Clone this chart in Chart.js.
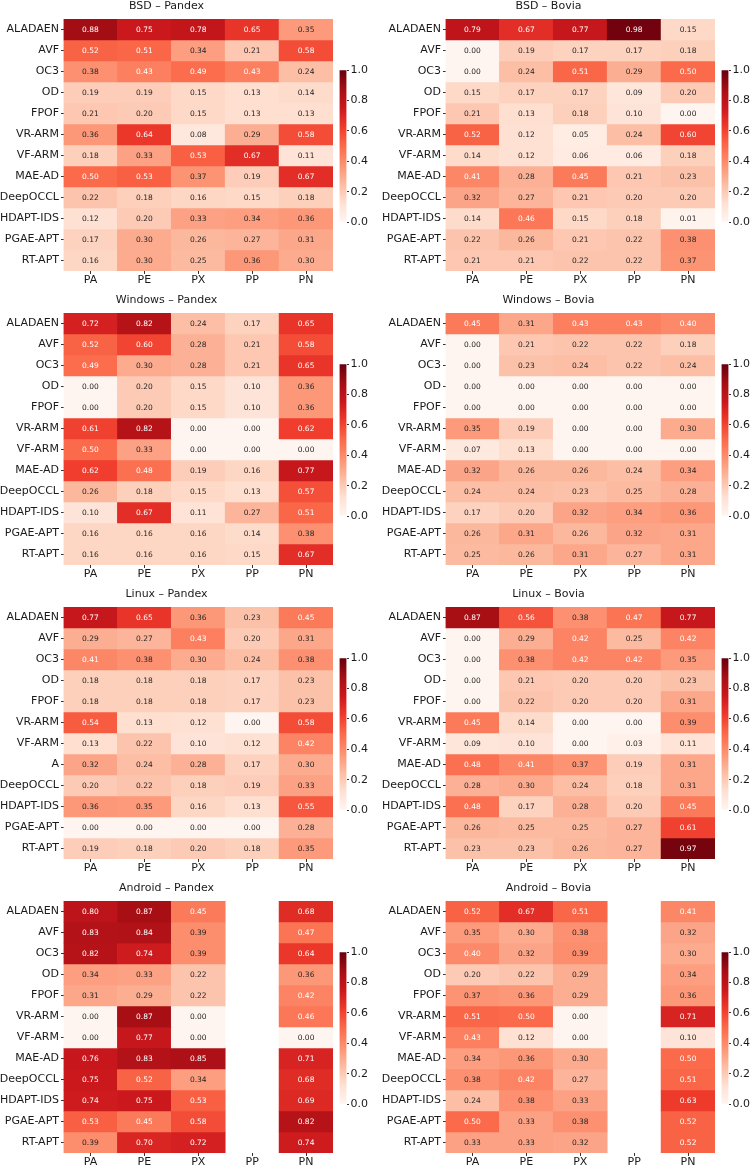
<!DOCTYPE html>
<html>
<head>
<meta charset="utf-8">
<script src="https://cdn.jsdelivr.net/npm/chart.js@4.4.1/dist/chart.umd.min.js"></script>
<style>
html,body{margin:0;padding:0;background:#fff;overflow:hidden;width:751px;height:1167px;}
canvas{position:absolute;}
</style>
</head>
<body>
<script>
// ---------- DATA ----------
const columns = ["PA", "PE", "PX", "PP", "PN"];
const methods = ["ALADAEN", "AVF", "OC3", "OD", "FPOF", "VR-ARM", "VF-ARM", "MAE-AD", "DeepOCCL", "HDAPT-IDS", "PGAE-APT", "RT-APT"];
const linuxPandexRows = ["ALADAEN", "AVF", "OC3", "OD", "FPOF", "VR-ARM", "VF-ARM", "A", "DeepOCCL", "HDAPT-IDS", "PGAE-APT", "RT-APT"];
const colorbarTicks = [0.0, 0.2, 0.4, 0.6, 0.8, 1.0];

const bsdPandex = [
  [0.88, 0.75, 0.78, 0.65, 0.35],
  [0.52, 0.51, 0.34, 0.21, 0.58],
  [0.38, 0.43, 0.49, 0.43, 0.24],
  [0.19, 0.19, 0.15, 0.13, 0.14],
  [0.21, 0.20, 0.15, 0.13, 0.13],
  [0.36, 0.64, 0.08, 0.29, 0.58],
  [0.18, 0.33, 0.53, 0.67, 0.11],
  [0.50, 0.53, 0.37, 0.19, 0.67],
  [0.22, 0.18, 0.16, 0.15, 0.18],
  [0.12, 0.20, 0.33, 0.34, 0.36],
  [0.17, 0.30, 0.26, 0.27, 0.31],
  [0.16, 0.30, 0.25, 0.36, 0.30]
];
const bsdBovia = [
  [0.79, 0.67, 0.77, 0.98, 0.15],
  [0.00, 0.19, 0.17, 0.17, 0.18],
  [0.00, 0.24, 0.51, 0.29, 0.50],
  [0.15, 0.17, 0.17, 0.09, 0.20],
  [0.21, 0.13, 0.18, 0.10, 0.00],
  [0.52, 0.12, 0.05, 0.24, 0.60],
  [0.14, 0.12, 0.06, 0.06, 0.18],
  [0.41, 0.28, 0.45, 0.21, 0.23],
  [0.32, 0.27, 0.21, 0.20, 0.20],
  [0.14, 0.46, 0.15, 0.18, 0.01],
  [0.22, 0.26, 0.21, 0.22, 0.38],
  [0.21, 0.21, 0.22, 0.22, 0.37]
];
const windowsPandex = [
  [0.72, 0.82, 0.24, 0.17, 0.65],
  [0.52, 0.60, 0.28, 0.21, 0.58],
  [0.49, 0.30, 0.28, 0.21, 0.65],
  [0.00, 0.20, 0.15, 0.10, 0.36],
  [0.00, 0.20, 0.15, 0.10, 0.36],
  [0.61, 0.82, 0.00, 0.00, 0.62],
  [0.50, 0.33, 0.00, 0.00, 0.00],
  [0.62, 0.48, 0.19, 0.16, 0.77],
  [0.26, 0.18, 0.15, 0.13, 0.57],
  [0.10, 0.67, 0.11, 0.27, 0.51],
  [0.16, 0.16, 0.16, 0.14, 0.38],
  [0.16, 0.16, 0.16, 0.15, 0.67]
];
const windowsBovia = [
  [0.45, 0.31, 0.43, 0.43, 0.40],
  [0.00, 0.21, 0.22, 0.22, 0.18],
  [0.00, 0.23, 0.24, 0.22, 0.24],
  [0.00, 0.00, 0.00, 0.00, 0.00],
  [0.00, 0.00, 0.00, 0.00, 0.00],
  [0.35, 0.19, 0.00, 0.00, 0.30],
  [0.07, 0.13, 0.00, 0.00, 0.00],
  [0.32, 0.26, 0.26, 0.24, 0.34],
  [0.24, 0.24, 0.23, 0.25, 0.28],
  [0.17, 0.20, 0.32, 0.34, 0.36],
  [0.26, 0.31, 0.26, 0.32, 0.31],
  [0.25, 0.26, 0.31, 0.27, 0.31]
];
const linuxPandex = [
  [0.77, 0.65, 0.36, 0.23, 0.45],
  [0.29, 0.27, 0.43, 0.20, 0.31],
  [0.41, 0.38, 0.30, 0.24, 0.38],
  [0.18, 0.18, 0.18, 0.17, 0.23],
  [0.18, 0.18, 0.18, 0.17, 0.23],
  [0.54, 0.13, 0.12, 0.00, 0.58],
  [0.13, 0.22, 0.10, 0.12, 0.42],
  [0.32, 0.24, 0.28, 0.17, 0.30],
  [0.20, 0.22, 0.18, 0.19, 0.33],
  [0.36, 0.35, 0.16, 0.13, 0.55],
  [0.00, 0.00, 0.00, 0.00, 0.28],
  [0.19, 0.18, 0.20, 0.18, 0.35]
];
const linuxBovia = [
  [0.87, 0.56, 0.38, 0.47, 0.77],
  [0.00, 0.29, 0.42, 0.25, 0.42],
  [0.00, 0.38, 0.42, 0.42, 0.35],
  [0.00, 0.21, 0.20, 0.20, 0.23],
  [0.00, 0.22, 0.20, 0.20, 0.31],
  [0.45, 0.14, 0.00, 0.00, 0.39],
  [0.09, 0.10, 0.00, 0.03, 0.11],
  [0.48, 0.41, 0.37, 0.19, 0.31],
  [0.28, 0.30, 0.24, 0.18, 0.31],
  [0.48, 0.17, 0.28, 0.20, 0.45],
  [0.26, 0.25, 0.25, 0.27, 0.61],
  [0.23, 0.23, 0.26, 0.27, 0.97]
];
const androidPandex = [
  [0.80, 0.87, 0.45, null, 0.68],
  [0.83, 0.84, 0.39, null, 0.47],
  [0.82, 0.74, 0.39, null, 0.64],
  [0.34, 0.33, 0.22, null, 0.36],
  [0.31, 0.29, 0.22, null, 0.42],
  [0.00, 0.87, 0.00, null, 0.46],
  [0.00, 0.77, 0.00, null, 0.00],
  [0.76, 0.83, 0.85, null, 0.71],
  [0.75, 0.52, 0.34, null, 0.68],
  [0.74, 0.75, 0.53, null, 0.69],
  [0.53, 0.45, 0.58, null, 0.82],
  [0.39, 0.70, 0.72, null, 0.74]
];
const androidBovia = [
  [0.52, 0.67, 0.51, null, 0.41],
  [0.35, 0.30, 0.38, null, 0.32],
  [0.40, 0.32, 0.39, null, 0.30],
  [0.20, 0.22, 0.29, null, 0.34],
  [0.37, 0.36, 0.29, null, 0.36],
  [0.51, 0.50, 0.00, null, 0.71],
  [0.43, 0.12, 0.00, null, 0.10],
  [0.34, 0.36, 0.30, null, 0.50],
  [0.38, 0.42, 0.27, null, 0.51],
  [0.24, 0.38, 0.33, null, 0.63],
  [0.50, 0.33, 0.38, null, 0.52],
  [0.33, 0.33, 0.32, null, 0.52]
];

// ---------- STYLE ----------
const FONT = "'DejaVu Sans', sans-serif";
Chart.defaults.font.family = FONT;
Chart.defaults.animation = false;
const REDS = ["#fff5f0", "#fee0d2", "#fcbba1", "#fc9272", "#fb6a4a", "#ef3b2c", "#cb181d", "#a50f15", "#67000d"];
const REDS_RGB = REDS.map(h => [parseInt(h.slice(1,3),16), parseInt(h.slice(3,5),16), parseInt(h.slice(5,7),16)]);
function redsRGB(v) {
  v = Math.max(0, Math.min(1, v));
  const p = v * 8, i = Math.min(7, Math.floor(p)), t = p - i;
  const a = REDS_RGB[i], b = REDS_RGB[i+1];
  return [0,1,2].map(k => a[k] + (b[k]-a[k]) * t);
}
function reds(v) { const c = redsRGB(v); return `rgb(${c[0].toFixed(1)},${c[1].toFixed(1)},${c[2].toFixed(1)})`; }
function textColor(v) {
  const c = redsRGB(v).map(x => { x /= 255; return x <= 0.03928 ? x / 12.92 : Math.pow((x + 0.055) / 1.055, 2.4); });
  const lum = 0.2126*c[0] + 0.7152*c[1] + 0.0722*c[2];
  return lum > 0.408 ? "#262626" : "#ffffff";
}
const TXT = "#1a1a1a";
const TICK = "#333333";

function makeCanvas(left, top, w, h) {
  const c = document.createElement("canvas");
  c.width = w; c.height = h;
  c.style.left = left + "px"; c.style.top = top + "px";
  c.style.width = w + "px"; c.style.height = h + "px";
  document.body.appendChild(c);
  return c;
}

const PANEL_H = 292;
function heatmap(left, top, title, rows, values) {
  const cv = makeCanvas(left, top, 333, PANEL_H);
  const cellText = {
    id: "cellText",
    afterDatasetsDraw(chart) {
      const ctx = chart.ctx;
      ctx.save();
      ctx.font = "7.5px " + FONT;
      ctx.textAlign = "center";
      ctx.textBaseline = "middle";
      chart.data.datasets.forEach((ds, r) => {
        chart.getDatasetMeta(r).data.forEach((el, c) => {
          const v = values[r][c];
          if (v === null || v === undefined) return;
          const p = el.getProps(["x", "y", "base"], true);
          ctx.fillStyle = textColor(v);
          ctx.fillText(v.toFixed(2), p.x, (p.y + p.base) / 2 + 0.5);
        });
      });
      ctx.restore();
    }
  };
  new Chart(cv, {
    type: "bar",
    data: {
      labels: columns,
      datasets: rows.map((name, r) => ({
        label: name,
        data: values[r].map(v => v === null ? null : [r, r + 1]),
        backgroundColor: values[r].map(v => v === null ? "rgba(0,0,0,0)" : reds(v)),
        borderWidth: 0,
        barPercentage: 1,
        categoryPercentage: 1,
        grouped: false
      }))
    },
    options: {
      responsive: false,
      animation: false,
      layout: { padding: 0 },
      plugins: {
        legend: { display: false },
        tooltip: { enabled: false },
        title: {
          display: true, text: title, color: TXT,
          font: { size: 11, weight: "normal", family: FONT },
          padding: { top: 0, bottom: 5.8 }
        }
      },
      scales: {
        x: {
          type: "category", offset: true,
          grid: { offset: false, drawOnChartArea: false, drawTicks: true, tickLength: 3, color: TICK },
          border: { display: false },
          ticks: { padding: 0, color: TXT, font: { size: 11, family: FONT }, maxRotation: 0, autoSkip: false },
          afterFit: s => { s.height = PANEL_H - 19 - 252; }
        },
        y: {
          type: "linear", min: 0, max: rows.length, reverse: true,
          afterBuildTicks: s => { s.ticks = rows.map((_, i) => ({ value: i + 0.5 })); },
          ticks: { autoSkip: false, padding: 2, color: TXT, font: { size: 11, family: FONT },
                   callback: v => rows[Math.floor(v)] },
          grid: { drawOnChartArea: false, drawTicks: true, tickLength: 2.5, color: TICK },
          border: { display: false },
          afterFit: s => { s.width = 63.5; }
        }
      }
    },
    plugins: [cellText]
  });
}

function colorbar(left, top) {
  const cv = makeCanvas(left, top, 36, PANEL_H);
  new Chart(cv, {
    type: "bar",
    data: {
      labels: [""],
      datasets: [{
        data: [[colorbarTicks[0], colorbarTicks[colorbarTicks.length - 1]]],
        backgroundColor: (ctx) => {
          const a = ctx.chart.chartArea;
          if (!a) return REDS[4];
          const g = ctx.chart.ctx.createLinearGradient(0, a.bottom, 0, a.top);
          REDS.forEach((c, i) => g.addColorStop(i / 8, c));
          return g;
        },
        borderWidth: 0, barPercentage: 1, categoryPercentage: 1
      }]
    },
    options: {
      responsive: false,
      animation: false,
      layout: { padding: { left: 6.5, right: 0, top: 70.3, bottom: PANEL_H - 222 } },
      plugins: { legend: { display: false }, tooltip: { enabled: false } },
      scales: {
        x: { display: false },
        y: {
          position: "right", min: 0, max: 1,
          afterBuildTicks: s => { s.ticks = colorbarTicks.map(v => ({ value: v })); },
          ticks: { padding: 1.5, color: TXT, font: { size: 11, family: FONT }, callback: v => Number(v).toFixed(1) },
          grid: { drawOnChartArea: false, drawTicks: true, tickLength: 2.5, color: TICK },
          border: { display: false },
          afterFit: s => { s.width = 22.5; }
        }
      }
    }
  });
}

const panels = [
  ["BSD – Pandex", methods, bsdPandex, "BSD – Bovia", methods, bsdBovia],
  ["Windows – Pandex", methods, windowsPandex, "Windows – Bovia", methods, windowsBovia],
  ["Linux – Pandex", linuxPandexRows, linuxPandex, "Linux – Bovia", methods, linuxBovia],
  ["Android – Pandex", methods, androidPandex, "Android – Bovia", methods, androidBovia]
];
panels.forEach((p, i) => {
  const top = i * 294;
  heatmap(0, top, p[0], p[1], p[2]);
  colorbar(333, top);
  heatmap(382, top, p[3], p[4], p[5]);
  colorbar(715, top);
});
</script>
</body>
</html>
